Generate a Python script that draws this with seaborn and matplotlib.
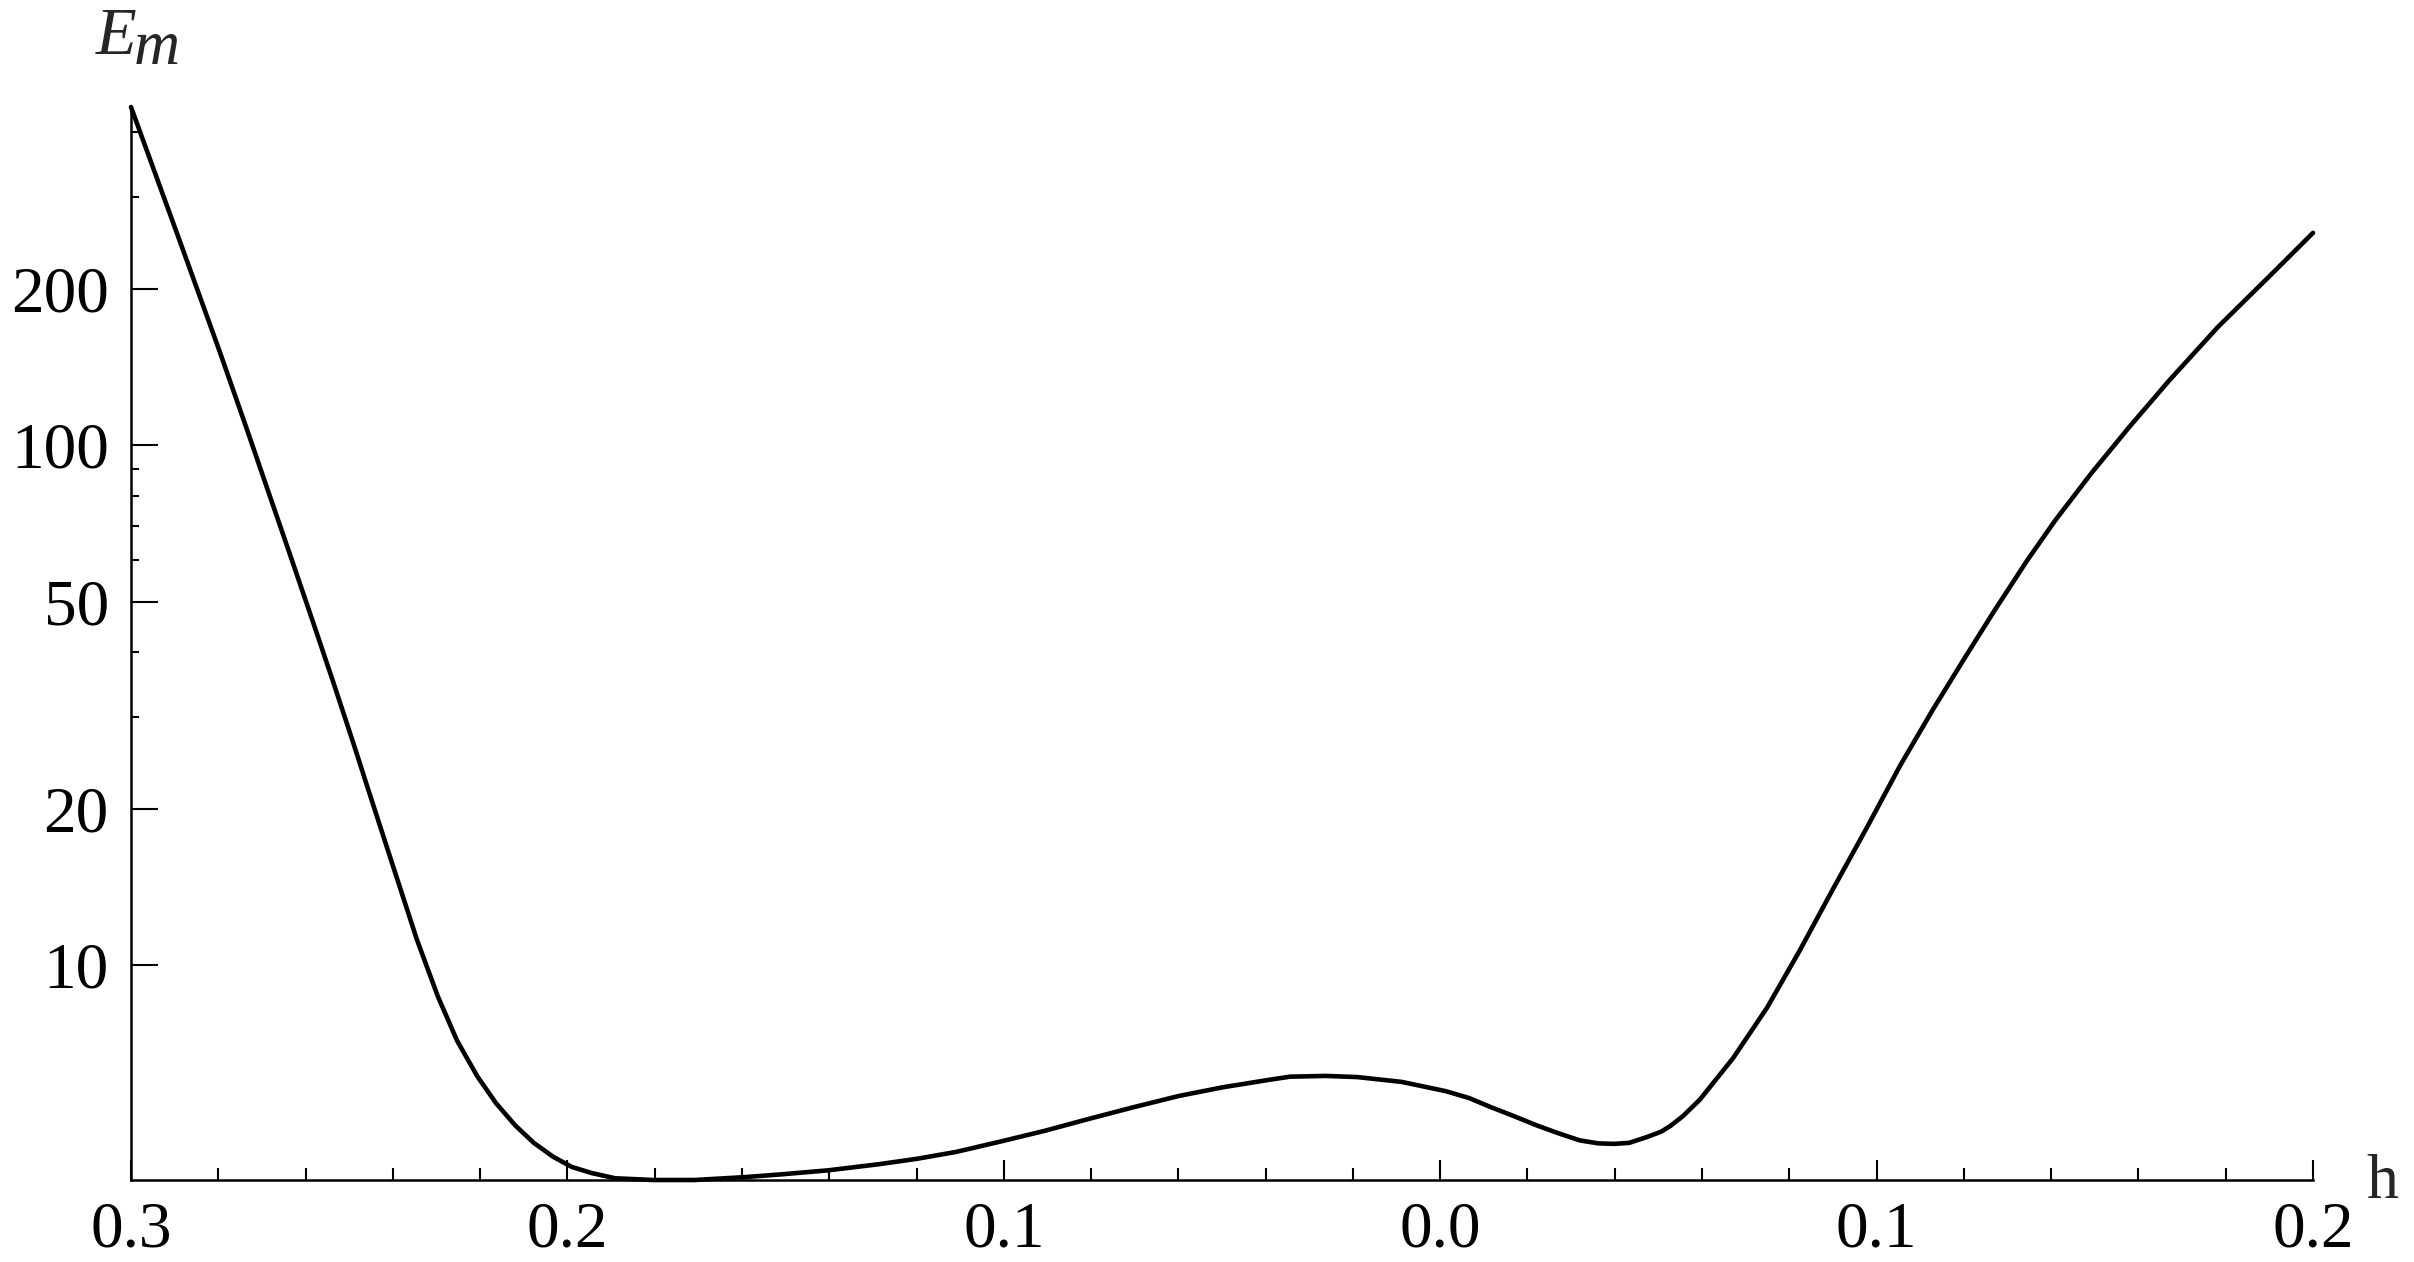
import numpy as np
import pandas as pd
import matplotlib
matplotlib.use("Agg")
import matplotlib.pyplot as plt
from matplotlib.ticker import FixedLocator, NullFormatter
import seaborn as sns

# ---- data ----
h_values = [-0.300, -0.2940, -0.2895, -0.2846, -0.2796, -0.2734, -0.2688, -0.2636,
            -0.2583, -0.2537, -0.2491, -0.2459, -0.2407, -0.2345, -0.2297, -0.2253,
            -0.2207, -0.2164, -0.2120, -0.2077, -0.2033, -0.1990, -0.1944, -0.1891,
            -0.1804, -0.1708, -0.1593, -0.1506, -0.1401, -0.1286, -0.1199, -0.1110,
            -0.1006, -0.0906, -0.0805, -0.0702, -0.0599, -0.0498, -0.0395, -0.0344,
            -0.0262, -0.0191, -0.0088, 0.0013, 0.0066, 0.0116, 0.0167, 0.0220,
            0.0270, 0.0320, 0.0362, 0.0398, 0.0433, 0.0474, 0.0506, 0.0527, 0.0556,
            0.0595, 0.0671, 0.0749, 0.0824,
            0.0900, 0.0978, 0.1054, 0.1129, 0.1203, 0.1269, 0.1345, 0.1409, 0.1494,
            0.1578, 0.1670, 0.1782, 0.1904, 0.2000]
em_values = [447, 325, 256, 197, 150.7, 107.0, 82.6, 61.7,
             45.7, 35.1, 26.8, 22.1, 16.2, 11.2, 8.71, 7.16,
             6.12, 5.43, 4.92, 4.55, 4.28, 4.09, 3.98, 3.89,
             3.86, 3.86, 3.91, 3.96, 4.03, 4.14, 4.24, 4.37,
             4.58, 4.80, 5.06, 5.33, 5.60, 5.82, 6.01, 6.10,
             6.12, 6.09, 5.96, 5.72, 5.55, 5.33, 5.13, 4.92,
             4.75, 4.60, 4.54, 4.53, 4.55, 4.67, 4.78, 4.90, 5.12,
             5.51, 6.62, 8.28, 10.67,
             14.0, 18.4, 24.2, 31.0, 39.1, 47.9, 60.0, 71.6, 88.7,
             108.1, 133, 168.7, 212.8, 256]

x_tick_values = [-0.3, -0.2, -0.1, 0.0, 0.1, 0.2]
x_tick_labels = ["0.3", "0.2", "0.1", "0.0", "0.1", "0.2"]
x_minor_values = [-0.28, -0.26, -0.24, -0.22, -0.18, -0.16, -0.14, -0.12,
                  -0.08, -0.06, -0.04, -0.02, 0.02, 0.04, 0.06, 0.08,
                  0.12, 0.14, 0.16, 0.18]
y_tick_values = [10, 20, 50, 100, 200]
y_tick_labels = ["10", "20", "50", "100", "200"]
y_minor_values = [30, 40, 60, 70, 80, 90, 300, 400]

df = pd.DataFrame({"h": h_values, "E_m": em_values})

# ---- style ----
sns.set_style("ticks")
plt.rcParams["font.family"] = ["Liberation Serif", "DejaVu Serif"]

W, H = 2414, 1262
fig = plt.figure(figsize=(W / 100, H / 100), dpi=100)
fig.patch.set_facecolor("white")

left, right, top, bottom = 131, 2313, 107, 1180
ax = fig.add_axes([left / W, 1 - bottom / H, (right - left) / W, (bottom - top) / H])

sns.lineplot(data=df, x="h", y="E_m", ax=ax, color="black", linewidth=3.3,
             sort=False, clip_on=False)

ax.set_yscale("log")
ax.set_xlim(-0.3, 0.2)
ax.set_ylim(min(em_values), max(em_values))

ax.set_xticks(x_tick_values, labels=x_tick_labels)
ax.xaxis.set_minor_locator(FixedLocator(x_minor_values))
ax.set_yticks(y_tick_values, labels=y_tick_labels)
ax.yaxis.set_minor_locator(FixedLocator(y_minor_values))
ax.yaxis.set_minor_formatter(NullFormatter())

for s in ["top", "right"]:
    ax.spines[s].set_visible(False)
for s in ["left", "bottom"]:
    ax.spines[s].set_linewidth(1.8)
    ax.spines[s].set_color("black")

ax.tick_params(axis="x", which="both", bottom=True, top=False)
ax.tick_params(axis="y", which="both", left=True, right=False)
ax.tick_params(axis="x", which="major", direction="in", length=14.4, width=1.5,
               labelsize=47, pad=15, colors="black")
ax.tick_params(axis="x", which="minor", direction="in", length=8.6, width=1.5,
               colors="black")
ax.tick_params(axis="y", which="major", direction="in", length=19.4, width=1.5,
               labelsize=47, pad=16, colors="black")
ax.tick_params(axis="y", which="minor", direction="in", length=5.8, width=1.5,
               colors="black")

ax.set_xlabel("")
ax.set_ylabel("")
ax.grid(False)

# axis titles: E with subscript m (Mathematica style, near full-size subscript)
fig.text(96 / W, 1 - 54 / H, "E", fontsize=48, style="italic",
         ha="left", va="baseline")
fig.text(134 / W, 1 - 64 / H, "m", fontsize=46, style="italic",
         ha="left", va="baseline")
fig.text(2366 / W, 1 - 1198 / H, "h", fontsize=46, ha="left", va="baseline")

fig.savefig("out.png", dpi=100, facecolor="white")
